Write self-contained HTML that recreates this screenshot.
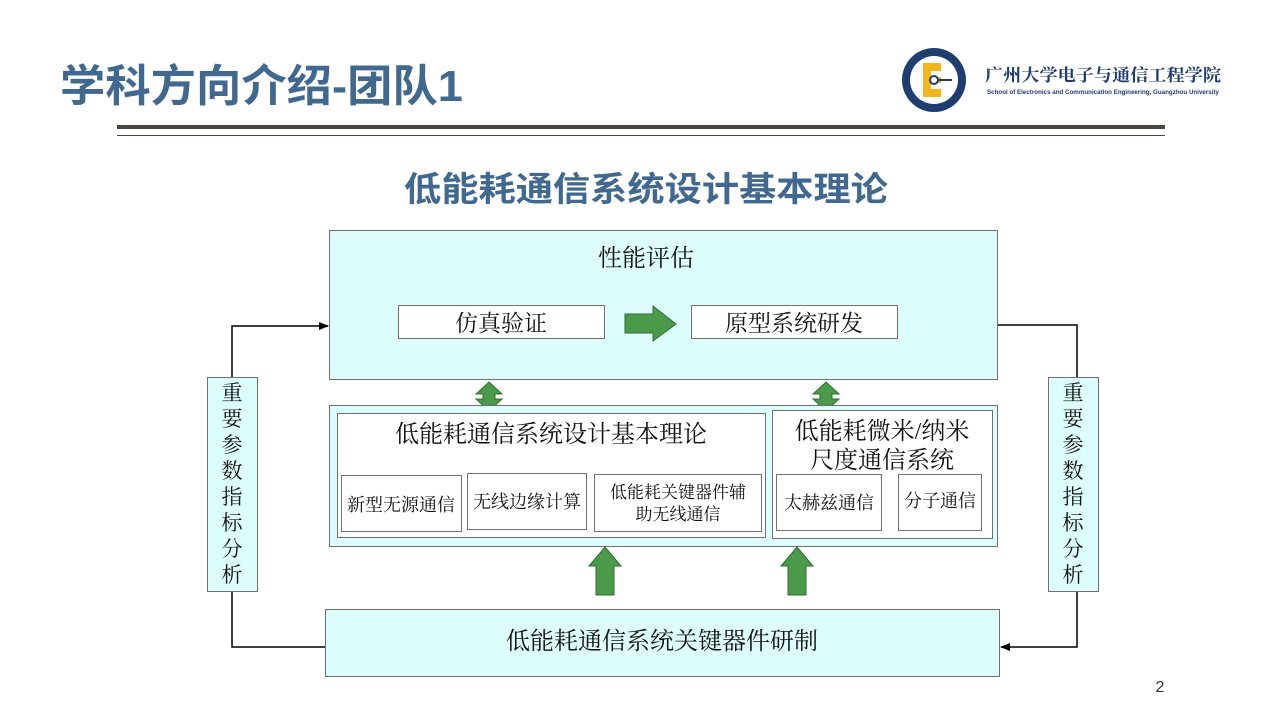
<!DOCTYPE html>
<html><head><meta charset="utf-8"><style>
html,body{margin:0;padding:0;background:#fff;}
svg{display:block;}
text{font-family:"Liberation Serif","Noto Serif CJK SC","Noto Sans CJK SC",serif;fill:#111;}
.b{font-family:"Liberation Sans","Noto Sans CJK SC",sans-serif;font-weight:bold;fill:#41698f;}
</style></head><body>
<svg width="1276" height="715" viewBox="0 0 1276 715" xmlns="http://www.w3.org/2000/svg">
<defs>
<marker id="ar" markerWidth="10" markerHeight="8" refX="9" refY="4" orient="auto" markerUnits="userSpaceOnUse"><path d="M0,0 L10,4 L0,8 z" fill="#000"/></marker>
</defs>
<text class="b" x="60" y="101" font-size="44" textLength="403" lengthAdjust="spacingAndGlyphs">学科方向介绍-团队1</text>
<circle cx="934" cy="80" r="32" fill="#1f3d6e"/>
<circle cx="934" cy="80" r="24" fill="#fff"/>
<rect x="923" y="63" width="18" height="34" fill="#f2b51c"/>
<rect x="931" y="71" width="10" height="6" fill="#fff"/>
<rect x="931" y="83" width="10" height="6" fill="#fff"/>
<circle cx="934" cy="80" r="4" fill="#fff" stroke="#1f3d6e" stroke-width="2"/>
<line x1="938" y1="80" x2="952" y2="80" stroke="#1f3d6e" stroke-width="2"/>
<text x="985" y="81" font-size="17" font-weight="bold" style="fill:#1f3d6e" textLength="236" lengthAdjust="spacingAndGlyphs">广州大学电子与通信工程学院</text>
<text x="987" y="94" font-size="6" font-weight="bold" style="fill:#1f3d6e;font-family:'Liberation Sans',sans-serif" textLength="232" lengthAdjust="spacingAndGlyphs">School of Electronics and Communication Engineering, Guangzhou University</text>
<rect x="117" y="125" width="1048" height="4" fill="#4b4540"/>
<rect x="117" y="135" width="1048" height="1" fill="#4b4540"/>
<text class="b" x="646" y="201" font-size="34" text-anchor="middle" textLength="484" lengthAdjust="spacingAndGlyphs">低能耗通信系统设计基本理论</text>

<polyline points="232,377 232,326 328,326" fill="none" stroke="#000" stroke-width="1.5" marker-end="url(#ar)"/>
<polyline points="325,647 232,647 232,591" fill="none" stroke="#000" stroke-width="1.5"/>
<polyline points="998,325 1077,325 1077,377" fill="none" stroke="#000" stroke-width="1.5"/>
<polyline points="1077,591 1077,647 1001,647" fill="none" stroke="#000" stroke-width="1.5" marker-end="url(#ar)"/>

<rect x="329.5" y="230.5" width="668" height="149" fill="#ddfcfc" stroke="#707070"/>
<text x="646" y="266" font-size="24" text-anchor="middle">性能评估</text>
<rect x="398.5" y="305.5" width="206" height="33" fill="#fff" stroke="#707070"/>
<text x="501" y="331" font-size="23" text-anchor="middle">仿真验证</text>
<rect x="691.5" y="305.5" width="206" height="33" fill="#fff" stroke="#707070"/>
<text x="794" y="331" font-size="23" text-anchor="middle">原型系统研发</text>
<path d="M625,314 H653 V306 L676,324 L653,341 V333 H625 z" fill="#4a9a4a" stroke="#2f6f2f"/>

<path d="M489,382 L502,394 H495 V399 H502 L489,411 L476,399 H483 V394 H476 z" fill="#4a9a4a" stroke="#2f6f2f"/>
<path d="M826,382 L839,394 H832 V399 H839 L826,411 L813,399 H820 V394 H813 z" fill="#4a9a4a" stroke="#2f6f2f"/>

<rect x="329.5" y="405.5" width="668" height="141" fill="#ddfcfc" stroke="#707070"/>
<rect x="337.5" y="413.5" width="428" height="124" fill="#fff" stroke="#707070"/>
<rect x="772.5" y="410.5" width="220" height="128" fill="#fff" stroke="#707070"/>
<text x="551" y="442" font-size="24" text-anchor="middle">低能耗通信系统设计基本理论</text>
<text x="882" y="439" font-size="24" text-anchor="middle">低能耗微米/纳米</text>
<text x="882" y="468" font-size="24" text-anchor="middle">尺度通信系统</text>
<rect x="341.5" y="475.5" width="120" height="56" fill="#fff" stroke="#707070"/>
<text x="401" y="511" font-size="18" text-anchor="middle">新型无源通信</text>
<rect x="467.5" y="473.5" width="119" height="56" fill="#fff" stroke="#707070"/>
<text x="527" y="508" font-size="18" text-anchor="middle">无线边缘计算</text>
<rect x="594.5" y="474.5" width="167" height="57" fill="#fff" stroke="#707070"/>
<text x="678" y="498" font-size="17" text-anchor="middle">低能耗关键器件辅</text>
<text x="678" y="520" font-size="17" text-anchor="middle">助无线通信</text>
<rect x="776.5" y="474.5" width="105" height="56" fill="#fff" stroke="#707070"/>
<text x="829" y="509" font-size="18" text-anchor="middle">太赫兹通信</text>
<rect x="898.5" y="474.5" width="83" height="56" fill="#fff" stroke="#707070"/>
<text x="940" y="507" font-size="18" text-anchor="middle">分子通信</text>

<path d="M605,547 L621,566 H614 V595 H596 V566 H589 z" fill="#4a9a4a" stroke="#2f6f2f"/>
<path d="M797,547 L813,566 H806 V595 H788 V566 H781 z" fill="#4a9a4a" stroke="#2f6f2f"/>

<rect x="325.5" y="609.5" width="674" height="67" fill="#ddfcfc" stroke="#707070"/>
<text x="662" y="649" font-size="24" text-anchor="middle">低能耗通信系统关键器件研制</text>

<rect x="207.5" y="377.5" width="50" height="214" fill="#ddfcfc" stroke="#707070"/>
<rect x="1048.5" y="377.5" width="50" height="214" fill="#ddfcfc" stroke="#707070"/>
<g font-size="21" text-anchor="middle">
<text x="232" y="400">重</text><text x="232" y="426">要</text><text x="232" y="452">参</text><text x="232" y="478">数</text><text x="232" y="504">指</text><text x="232" y="530">标</text><text x="232" y="556">分</text><text x="232" y="582">析</text>
<text x="1073" y="400">重</text><text x="1073" y="426">要</text><text x="1073" y="452">参</text><text x="1073" y="478">数</text><text x="1073" y="504">指</text><text x="1073" y="530">标</text><text x="1073" y="556">分</text><text x="1073" y="582">析</text>
</g>
<text x="1160" y="692" font-size="16" text-anchor="middle" style="font-family:'Liberation Sans',sans-serif;fill:#333">2</text>
</svg>
</body></html>
